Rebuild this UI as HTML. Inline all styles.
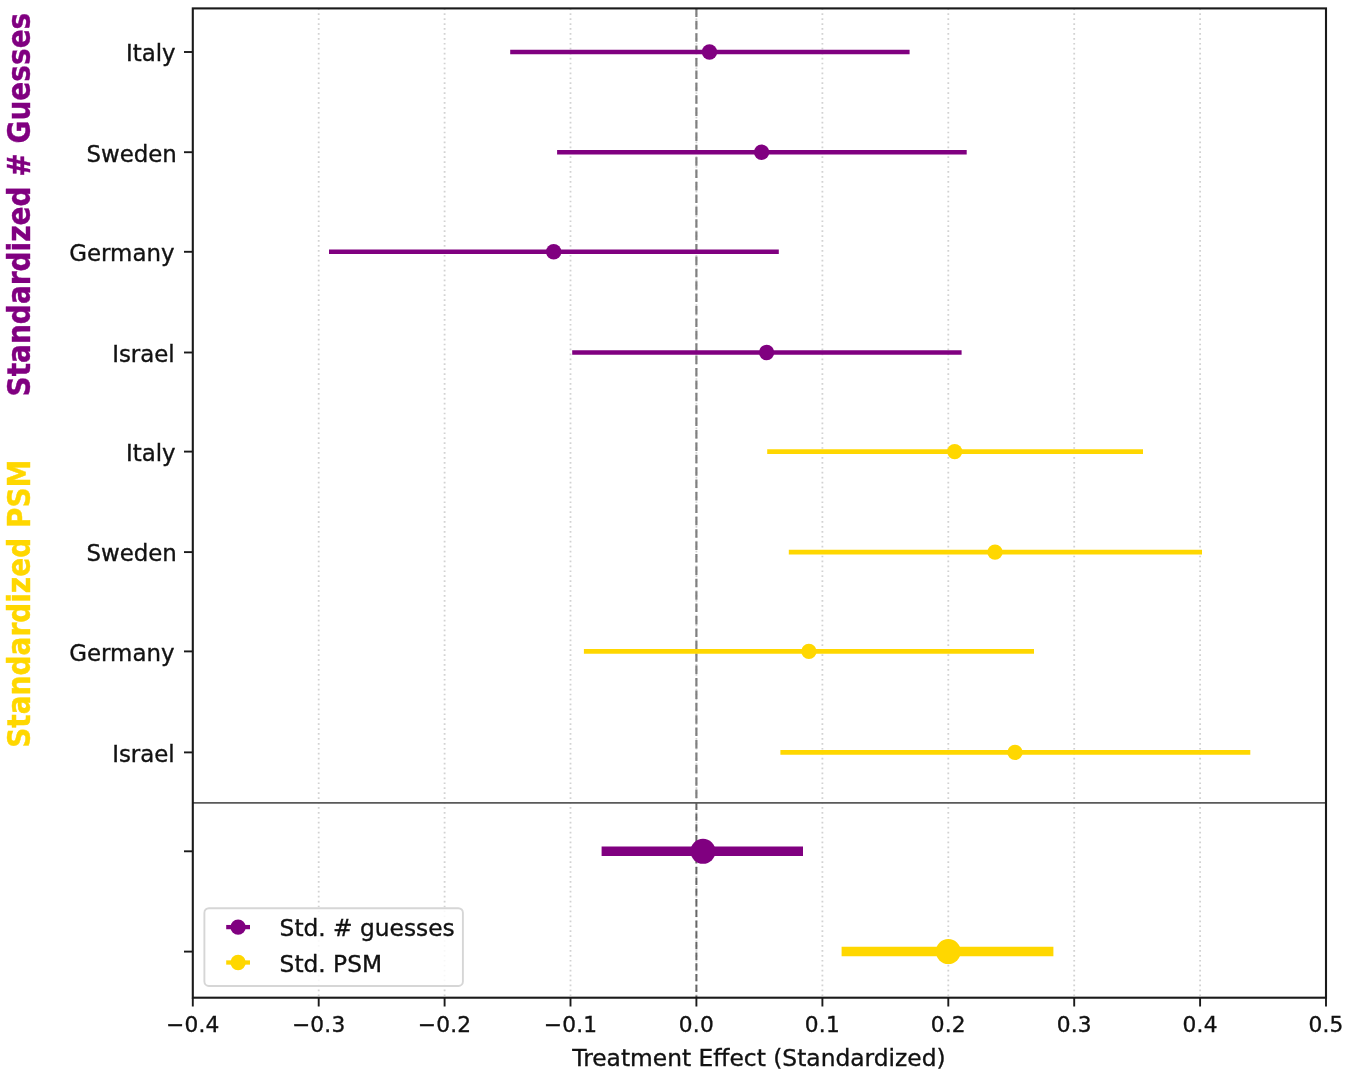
<!DOCTYPE html>
<html lang="en"><head><meta charset="utf-8"><title>Treatment Effect (Standardized)</title>
<style>html,body{margin:0;padding:0;background:#fff}svg{display:block}text{font-family:"DejaVu Sans","Liberation Sans",sans-serif;fill:#111;stroke:#111;stroke-width:0.35px;paint-order:stroke}</style></head><body>
<svg width="1350" height="1074" viewBox="0 0 1350 1074">
<rect width="1350" height="1074" fill="#fff"/>
<g>
<g stroke="#d2d2d2" stroke-width="1.8" stroke-dasharray="1.7 3.23" fill="none">
<line x1="318.7" y1="8.4" x2="318.7" y2="997.7"/>
<line x1="444.6" y1="8.4" x2="444.6" y2="997.7"/>
<line x1="570.5" y1="8.4" x2="570.5" y2="997.7"/>
<line x1="822.4" y1="8.4" x2="822.4" y2="997.7"/>
<line x1="948.3" y1="8.4" x2="948.3" y2="997.7"/>
<line x1="1074.2" y1="8.4" x2="1074.2" y2="997.7"/>
<line x1="1200.1" y1="8.4" x2="1200.1" y2="997.7"/>
</g>
<line x1="696.4" y1="8.4" x2="696.4" y2="997.7" stroke="#d2d2d2" stroke-width="1.8" stroke-dasharray="1.7 3.23"/>
<line x1="696.4" y1="8.4" x2="696.4" y2="802.8" stroke="#808080" stroke-width="2.2" stroke-dasharray="8.5 3.9"/>
<line x1="696.4" y1="802.8" x2="696.4" y2="997.7" stroke="#666" stroke-width="2.0" stroke-dasharray="7.3 3.4"/>
<line x1="510.2" y1="52.0" x2="909.6" y2="52.0" stroke="#800080" stroke-width="4.6"/>
<circle cx="709.5" cy="52.0" r="7.7" fill="#800080"/>
<line x1="557.1" y1="152.2" x2="966.7" y2="152.2" stroke="#800080" stroke-width="4.6"/>
<circle cx="761.6" cy="152.2" r="7.7" fill="#800080"/>
<line x1="329.0" y1="251.8" x2="778.8" y2="251.8" stroke="#800080" stroke-width="4.6"/>
<circle cx="553.7" cy="251.8" r="7.7" fill="#800080"/>
<line x1="572.2" y1="352.5" x2="961.6" y2="352.5" stroke="#800080" stroke-width="4.6"/>
<circle cx="766.6" cy="352.5" r="7.7" fill="#800080"/>
<line x1="767.2" y1="451.6" x2="1143.0" y2="451.6" stroke="#FFD700" stroke-width="4.6"/>
<circle cx="954.7" cy="451.6" r="7.7" fill="#FFD700"/>
<line x1="788.8" y1="552.1" x2="1202.0" y2="552.1" stroke="#FFD700" stroke-width="4.6"/>
<circle cx="995.0" cy="552.1" r="7.7" fill="#FFD700"/>
<line x1="583.9" y1="651.4" x2="1034.0" y2="651.4" stroke="#FFD700" stroke-width="4.6"/>
<circle cx="808.9" cy="651.4" r="7.7" fill="#FFD700"/>
<line x1="780.4" y1="752.4" x2="1250.3" y2="752.4" stroke="#FFD700" stroke-width="4.6"/>
<circle cx="1015.0" cy="752.4" r="7.7" fill="#FFD700"/>
<line x1="601.6" y1="851.3" x2="803.0" y2="851.3" stroke="#800080" stroke-width="9.5"/>
<circle cx="703.0" cy="851.3" r="12.5" fill="#800080"/>
<line x1="841.6" y1="951.6" x2="1053.4" y2="951.6" stroke="#FFD700" stroke-width="9.5"/>
<circle cx="948.3" cy="951.6" r="12.5" fill="#FFD700"/>
<line x1="192.8" y1="802.8" x2="1326.0" y2="802.8" stroke="#5a5a5a" stroke-width="1.8"/>
<rect x="204.4" y="908.2" width="258.5" height="77.8" rx="4.5" ry="4.5" fill="#fff" fill-opacity="0.85" stroke="#d6d6d6" stroke-width="1.9"/>
<line x1="226.2" y1="927.1" x2="250.0" y2="927.1" stroke="#800080" stroke-width="4.3"/>
<circle cx="238.1" cy="927.1" r="7.7" fill="#800080"/>
<text x="279.6" y="936.0" font-size="23.3">Std. # guesses</text>
<line x1="226.2" y1="962.5" x2="250.0" y2="962.5" stroke="#FFD700" stroke-width="4.3"/>
<circle cx="238.1" cy="962.5" r="7.7" fill="#FFD700"/>
<text x="279.6" y="971.6" font-size="23.3">Std. PSM</text>
<rect x="192.8" y="8.4" width="1133.2" height="989.3" fill="none" stroke="#1a1a1a" stroke-width="2.1"/>
<g stroke="#1a1a1a" stroke-width="1.9">
<line x1="192.8" y1="997.7" x2="192.8" y2="1006.5"/>
<line x1="318.7" y1="997.7" x2="318.7" y2="1006.5"/>
<line x1="444.6" y1="997.7" x2="444.6" y2="1006.5"/>
<line x1="570.5" y1="997.7" x2="570.5" y2="1006.5"/>
<line x1="696.4" y1="997.7" x2="696.4" y2="1006.5"/>
<line x1="822.4" y1="997.7" x2="822.4" y2="1006.5"/>
<line x1="948.3" y1="997.7" x2="948.3" y2="1006.5"/>
<line x1="1074.2" y1="997.7" x2="1074.2" y2="1006.5"/>
<line x1="1200.1" y1="997.7" x2="1200.1" y2="1006.5"/>
<line x1="1326.0" y1="997.7" x2="1326.0" y2="1006.5"/>
<line x1="184.0" y1="52.0" x2="192.8" y2="52.0"/>
<line x1="184.0" y1="152.2" x2="192.8" y2="152.2"/>
<line x1="184.0" y1="251.8" x2="192.8" y2="251.8"/>
<line x1="184.0" y1="352.5" x2="192.8" y2="352.5"/>
<line x1="184.0" y1="451.6" x2="192.8" y2="451.6"/>
<line x1="184.0" y1="552.1" x2="192.8" y2="552.1"/>
<line x1="184.0" y1="651.4" x2="192.8" y2="651.4"/>
<line x1="184.0" y1="752.4" x2="192.8" y2="752.4"/>
<line x1="184.0" y1="851.3" x2="192.8" y2="851.3"/>
<line x1="184.0" y1="951.6" x2="192.8" y2="951.6"/>
</g>
<text x="192.8" y="1031.8" font-size="21.7" letter-spacing="0.2" text-anchor="middle">−0.4</text>
<text x="318.7" y="1031.8" font-size="21.7" letter-spacing="0.2" text-anchor="middle">−0.3</text>
<text x="444.6" y="1031.8" font-size="21.7" letter-spacing="0.2" text-anchor="middle">−0.2</text>
<text x="570.5" y="1031.8" font-size="21.7" letter-spacing="0.2" text-anchor="middle">−0.1</text>
<text x="696.4" y="1031.8" font-size="21.7" letter-spacing="0.2" text-anchor="middle">0.0</text>
<text x="822.4" y="1031.8" font-size="21.7" letter-spacing="0.2" text-anchor="middle">0.1</text>
<text x="948.3" y="1031.8" font-size="21.7" letter-spacing="0.2" text-anchor="middle">0.2</text>
<text x="1074.2" y="1031.8" font-size="21.7" letter-spacing="0.2" text-anchor="middle">0.3</text>
<text x="1200.1" y="1031.8" font-size="21.7" letter-spacing="0.2" text-anchor="middle">0.4</text>
<text x="1326.0" y="1031.8" font-size="21.7" letter-spacing="0.2" text-anchor="middle">0.5</text>
<text x="175.6" y="61.3" font-size="22.9" text-anchor="end">Italy</text>
<text x="176.9" y="161.5" font-size="22.9" text-anchor="end">Sweden</text>
<text x="174.5" y="261.1" font-size="22.9" text-anchor="end">Germany</text>
<text x="174.7" y="361.8" font-size="22.9" text-anchor="end">Israel</text>
<text x="175.6" y="460.9" font-size="22.9" text-anchor="end">Italy</text>
<text x="176.9" y="561.4" font-size="22.9" text-anchor="end">Sweden</text>
<text x="174.5" y="660.7" font-size="22.9" text-anchor="end">Germany</text>
<text x="174.7" y="761.7" font-size="22.9" text-anchor="end">Israel</text>
<text x="759.0" y="1065.9" font-size="23.37" text-anchor="middle">Treatment Effect (Standardized)</text>
<text transform="translate(29.9 204.6) rotate(-90) scale(1 1.13)" font-size="28.0" font-weight="bold" text-anchor="middle" style="fill:#800080;stroke:#800080">Standardized # Guesses</text>
<text transform="translate(29.9 603.7) rotate(-90) scale(1 1.13)" font-size="28.0" font-weight="bold" text-anchor="middle" style="fill:#FFD700;stroke:#FFD700">Standardized PSM</text>
</g></svg></body></html>
